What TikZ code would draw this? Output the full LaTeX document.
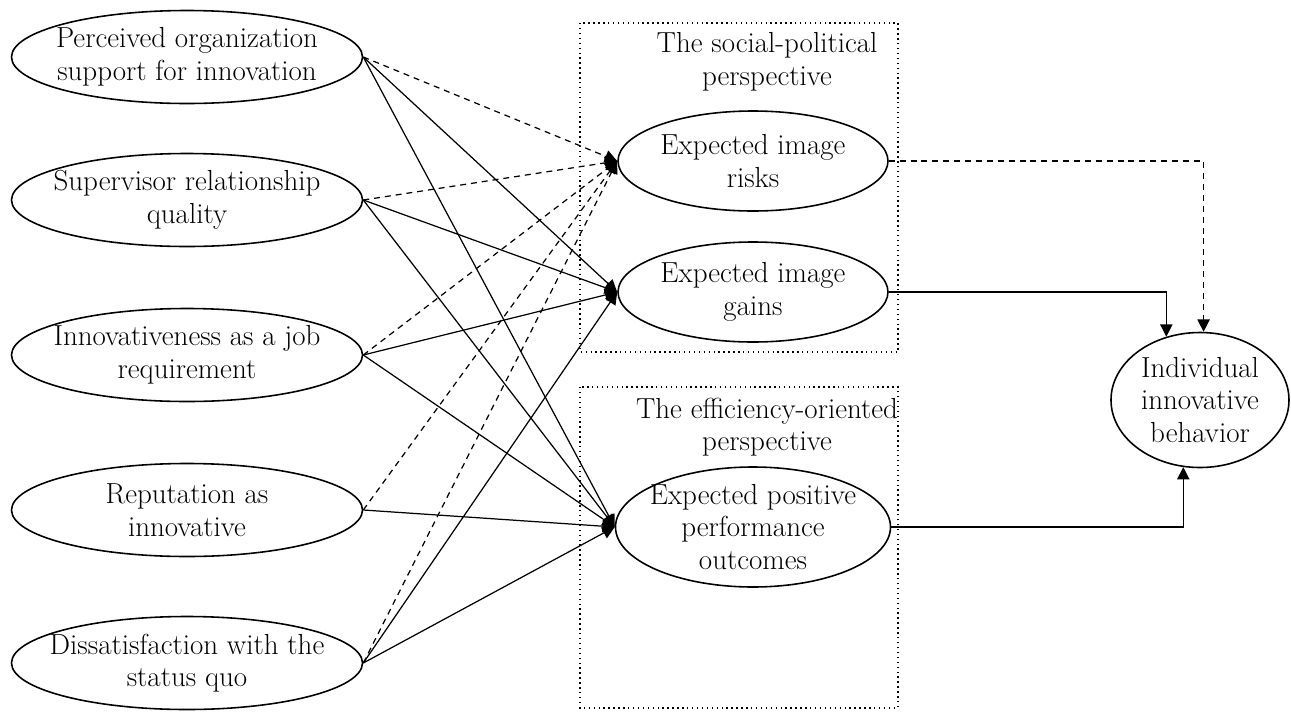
\documentclass[tikz,border=0pt]{standalone}
\usetikzlibrary{shapes.geometric,arrows.meta}
\tikzset{
	oval/.style={draw,ellipse,line width=0.9pt,inner xsep=-0.6cm,inner ysep=-0.3cm,align=center},
	factor/.style={oval,minimum width=7.02cm,minimum height=1.86cm},
	belief/.style={oval,minimum width=5.4cm,minimum height=2cm},
	persp/.style={draw,dotted,line width=0.8pt},
	path/.style={line width=0.7pt,-{Triangle[length=7pt,width=7pt]}},
	risk/.style={path,dash pattern=on 3.4pt off 2.8pt}
}
\begin{document}
\begin{tikzpicture}[font=\fontsize{16.5}{18.5}\selectfont]
	\useasboundingbox (0,0) rectangle (25.82,-14.28);

	% perspective boxes
	\draw[persp] (11.6,-0.46) rectangle (17.96,-7.04);
	\draw[persp] (11.6,-7.74) rectangle (17.96,-14.16);
	\node[align=center] (tsp) at (15.34,-1.24) {The social-political\\perspective};
	\node[align=center] (teo) at (15.34,-8.54) {The efficiency-oriented\\perspective};

	% antecedents
	\node[factor] (pos) at (3.74,-1.14) {Perceived organization\\support for innovation};
	\node[factor] (srq) at (3.74,-4.0) {Supervisor relationship\\quality};
	\node[factor] (req) at (3.74,-7.1) {Innovativeness as a job\\requirement};
	\node[factor] (rep) at (3.74,-10.2) {Reputation as\\innovative};
	\node[factor] (dis) at (3.74,-13.26) {Dissatisfaction with the\\status quo};

	% expectations
	\node[belief] (risks) at (15.06,-3.22) {Expected image\\risks};
	\node[belief] (gains) at (15.06,-5.84) {Expected image\\gains};
	\node[belief,minimum width=5.5cm,minimum height=2.4cm] (perf) at (15.06,-10.54) {Expected positive\\performance\\outcomes};

	\node[oval,minimum width=3.56cm,minimum height=2.7cm] (iib) at (24.0,-8.0) {Individual\\innovative\\behavior};

	% to image risks
	\draw[risk] (pos.east) -- (risks.west);
	\draw[risk] (srq.east) -- (risks.west);
	\draw[risk] (req.east) -- (risks.west);
	\draw[risk] (rep.east) -- (risks.west);
	\draw[risk] (dis.east) -- (risks.west);

	% to image gains
	\draw[path] (pos.east) -- (gains.west);
	\draw[path] (srq.east) -- (gains.west);
	\draw[path] (req.east) -- (gains.west);
	\draw[path] (dis.east) -- (gains.west);

	% to performance outcomes
	\draw[path] (pos.east) -- (perf.west);
	\draw[path] (srq.east) -- (perf.west);
	\draw[path] (req.east) -- (perf.west);
	\draw[path] (rep.east) -- (perf.west);
	\draw[path] (dis.east) -- (perf.west);

	% to behavior
	\draw[risk] (risks.east) -| (iib.87);
	\draw[path] (gains.east) -| (iib.118);
	\draw[path] (perf.east) -| (iib.256);
\end{tikzpicture}
\end{document}
